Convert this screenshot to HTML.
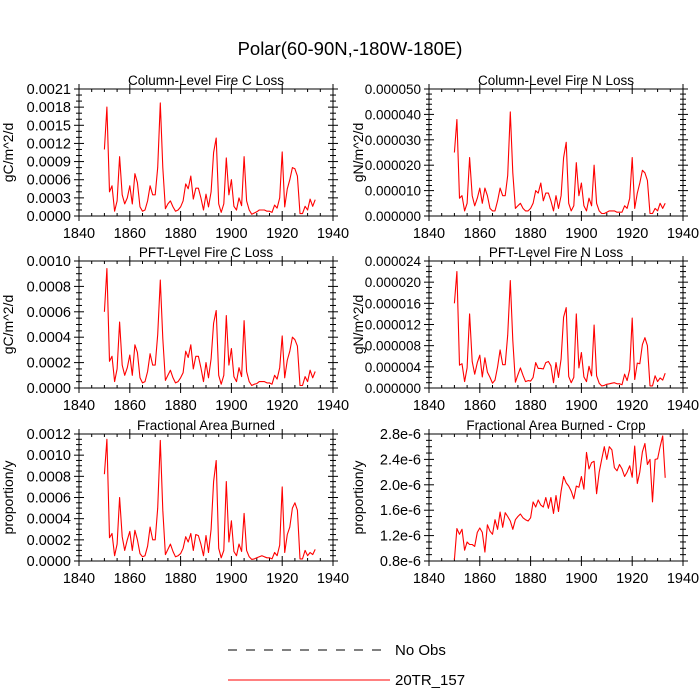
<!DOCTYPE html>
<html><head><meta charset="utf-8"><style>
body{margin:0;background:#fff;}
svg{display:block;font-family:"Liberation Sans",sans-serif;}
</style></head><body>
<svg id="chart" width="700" height="700" viewBox="0 0 700 700">
<text x="350" y="55" text-anchor="middle" font-size="18.5">Polar(60-90N,-180W-180E)</text>
<g id="panels"></g>
<g>
<line x1="228" y1="650" x2="390" y2="650" stroke="#000" stroke-width="1" stroke-dasharray="9,9"/>
<text x="395" y="655" font-size="15">No Obs</text>
<line x1="228" y1="680" x2="390" y2="680" stroke="#f00" stroke-width="1"/>
<text x="395" y="685" font-size="15">20TR_157</text>
</g>
</svg>
<script>
const years=[];for(let y=1850;y<=1933;y++)years.push(y);
const xTicks=[1840,1860,1880,1900,1920,1940];
const colC=[11,18,4,5,0.8,2.5,9.8,3.5,2,3,5,2,7,5.5,1.5,0.8,1,2.5,5,3.5,3.5,8,18.7,8,1.2,2,2.5,1.5,0.8,1,1.5,2.5,5.3,4.5,6.6,2.8,4.6,4.6,3,1,3.6,1.5,4,10.5,12.9,2,0.6,2,9.6,3.5,6,1.6,1,3,1.7,9.8,2.5,1,0.3,0.5,0.7,1,1,1,0.8,0.8,0.6,1.8,1.3,3,10.6,1.5,4.5,6,8,7.8,6.6,0.4,0.4,1.6,1,2.8,1.6,2.7];
const colN=[25,38,7,8,2,5,23,8,4,7,11,5,11,8,3,2,2,6,11,8,8,16,41,17,3,4,5,3,2,2,3,5,10,9,13,6,9,9,6,2,8,3,8,23,29,5,2,4,21,8,13,4,2,7,4,20,5,2,1,1,1.5,2,2,2,1.5,1.5,1.5,4,3,7,23,3,9,13,18,17,14,1,1,3,2,5,3,5];
const pftC=[6,9.4,2.1,2.5,0.5,1.5,5.2,1.8,1,1.6,2.6,1,3.4,2.8,0.8,0.4,0.5,1.3,2.7,1.8,1.8,4.2,8.5,3.9,0.6,1,1.4,0.8,0.4,0.5,0.8,1.2,2.9,2.4,3.4,1.5,2.5,2.5,1.6,0.5,2,0.8,2.3,5.1,6.1,1,0.3,1,5.7,1.8,3.1,0.9,0.5,1.6,0.9,5.3,1.3,0.5,0.2,0.3,0.35,0.5,0.5,0.5,0.4,0.4,0.3,1,0.7,1.6,4.1,0.8,2.2,2.9,4,3.8,3.3,0.2,0.2,0.9,0.5,1.4,0.8,1.3];
const pftN=[16,22,4.3,4.6,1.2,3.8,14,5,2.6,4.8,6.2,2.1,5.7,3,2,0.9,1.5,4,7.2,4.4,4.4,10,20.3,9,1.1,2.5,3.8,2.4,1.2,1.4,1.3,2,4.8,3.7,3.7,3.6,4.8,5,4.2,1,4.8,2,5.5,13.4,15.2,2.2,1,2,14,3.8,6.7,2.1,1.2,4.1,2.3,11.9,2.3,0.9,0.4,0.5,0.7,0.8,0.9,1,0.8,0.8,0.6,2.6,1.4,3.5,13.2,1.6,4.7,4.6,8.2,9.5,8,0.4,0.4,2.3,1.2,1.9,1.5,2.8];
const fab=[8.2,11.5,2.2,2.6,0.5,1.6,6,2.3,1,2,2.8,1,2.9,2,0.7,0.4,0.5,1.4,3.2,2,2,5,11.4,4.8,0.6,1.1,1.6,0.9,0.4,0.5,0.7,1.2,2.3,1.8,2.6,1,2.5,2.4,1.6,0.5,2.4,0.8,3,7.5,9.5,1.2,0.3,1,7.5,1.8,3.8,0.9,0.5,1.6,0.9,4.5,1,0.4,0.15,0.2,0.3,0.4,0.5,0.4,0.3,0.3,0.2,0.8,0.5,1.5,7,0.8,2.5,3.2,5,5.5,4.8,0.2,0.2,1,0.5,0.8,0.6,1.1];
const crop=[0.82,1.31,1.22,1.3,0.97,1.1,1.06,1.06,1.03,1.25,1.32,1.25,0.94,1.37,1.27,1.22,1.45,1.3,1.57,1.33,1.56,1.5,1.43,1.3,1.45,1.5,1.54,1.48,1.45,1.43,1.48,1.73,1.65,1.76,1.68,1.65,1.8,1.63,1.8,1.55,1.83,1.58,1.9,2.13,2.03,1.98,1.9,1.78,1.98,1.96,2.13,1.93,2.51,2.25,2.35,2.37,1.86,2.2,2.4,2.6,2.4,2.6,2.55,2.27,2.22,2.32,2.25,2.13,2.2,2.3,2.12,2.61,2.02,2.2,2.52,2.65,2.32,2.4,1.73,2.4,2.41,2.6,2.77,2.11];
const ticksColC=["0.0000","0.0003","0.0006","0.0009","0.0012","0.0015","0.0018","0.0021"];
const ticksColN=["0.000000","0.000010","0.000020","0.000030","0.000040","0.000050"];
const ticksPftC=["0.0000","0.0002","0.0004","0.0006","0.0008","0.0010"];
const ticksPftN=["0.000000","0.000004","0.000008","0.000012","0.000016","0.000020","0.000024"];
const ticksFab=["0.0000","0.0002","0.0004","0.0006","0.0008","0.0010","0.0012"];
const ticksCrop=["0.8e-6","1.2e-6","1.6e-6","2.0e-6","2.4e-6","2.8e-6"];

const panels=[
 {name:"column-fire-c-loss",title:"Column-Level Fire C Loss",yl:"gC/m^2/d",x:79,y:89,data:colC,min:0,max:21,step:3,minor:3,ticks:ticksColC,fs:14.5,ylx:66},
 {name:"column-fire-n-loss",title:"Column-Level Fire N Loss",yl:"gN/m^2/d",x:429,y:89,data:colN,min:0,max:50,step:10,minor:5,ticks:ticksColN,fs:13.5,ylx:66},
 {name:"pft-fire-c-loss",title:"PFT-Level Fire C Loss",yl:"gC/m^2/d",x:79,y:261,data:pftC,min:0,max:10,step:2,minor:4,ticks:ticksPftC,fs:14.5,ylx:66},
 {name:"pft-fire-n-loss",title:"PFT-Level Fire N Loss",yl:"gN/m^2/d",x:429,y:261,data:pftN,min:0,max:24,step:4,minor:4,ticks:ticksPftN,fs:13.5,ylx:66},
 {name:"fractional-area-burned",title:"Fractional Area Burned",yl:"proportion/y",x:79,y:434,data:fab,min:0,max:12,step:2,minor:4,ticks:ticksFab,fs:14.5,ylx:66},
 {name:"fractional-area-burned-crop",title:"Fractional Area Burned - Crop",yl:"proportion/y",x:429,y:434,data:crop,min:0.8,max:2.8,step:0.4,minor:4,ticks:ticksCrop,fs:14.5,ylx:66}
];
const W=254,H=127,NS="http://www.w3.org/2000/svg";
const root=document.getElementById('panels');
function mk(tag,attrs,parent){const e=document.createElementNS(NS,tag);for(const k in attrs)e.setAttribute(k,attrs[k]);parent.appendChild(e);return e;}
panels.forEach(p=>{
 const g=mk('g',{},root);
 
 
 const xs=v=>p.x+(v-1840)/100*W;
 const ys=v=>p.y+H-(v-p.min)/(p.max-p.min)*H;
 const t=mk('text',{x:p.x+W/2,y:p.y-4,'text-anchor':'middle','font-size':13.5},g);t.textContent=p.title;
 
 
 const r=mk('rect',{x:p.x,y:p.y,width:W,height:H,fill:'none',stroke:'#000','stroke-width':1},g);
 
 
 xTicks.forEach((v,i)=>{
  const X=xs(v);
  mk('line',{x1:X,y1:p.y+H+5,x2:X,y2:p.y+H-5,stroke:'#000'},g);
  mk('line',{x1:X,y1:p.y-5,x2:X,y2:p.y+5,stroke:'#000'},g);
  const l=mk('text',{x:X,y:p.y+H+22,'text-anchor':'middle','font-size':14.5},g);l.textContent=v;
  
  
  if(i<xTicks.length-1)for(let m=1;m<4;m++){const Xm=xs(v+m*5);
   mk('line',{x1:Xm,y1:p.y+H,x2:Xm,y2:p.y+H-3,stroke:'#000'},g);
   mk('line',{x1:Xm,y1:p.y,x2:Xm,y2:p.y+3,stroke:'#000'},g);}
 });
 p.ticks.forEach((lab,i)=>{
  const v=p.min+i*p.step,Y=ys(v);
  mk('line',{x1:p.x-5,y1:Y,x2:p.x+5,y2:Y,stroke:'#000'},g);
  mk('line',{x1:p.x+W-5,y1:Y,x2:p.x+W+5,y2:Y,stroke:'#000'},g);
  const l=mk('text',{x:p.x-8,y:Y+5,'text-anchor':'end','font-size':p.fs},g);l.textContent=lab;
  
  
  if(i<p.ticks.length-1)for(let m=1;m<p.minor;m++){const Ym=ys(v+m*p.step/p.minor);
   mk('line',{x1:p.x-3,y1:Ym,x2:p.x+3,y2:Ym,stroke:'#000'},g);
   mk('line',{x1:p.x+W-3,y1:Ym,x2:p.x+W+3,y2:Ym,stroke:'#000'},g);}
 });
 const yl=mk('text',{x:0,y:0,'text-anchor':'middle','font-size':14,transform:`translate(${p.x-p.ylx},${p.y+H/2}) rotate(-90)`},g);yl.textContent=p.yl;
 
 
 const pts=p.data.map((v,i)=>xs(years[i]).toFixed(1)+','+ys(v).toFixed(1)).join(' ');
 const pl=mk('polyline',{points:pts,fill:'none',stroke:'#f00','stroke-width':1.1,'stroke-linejoin':'round'},g);
 
 
});
</script>
</body></html>
